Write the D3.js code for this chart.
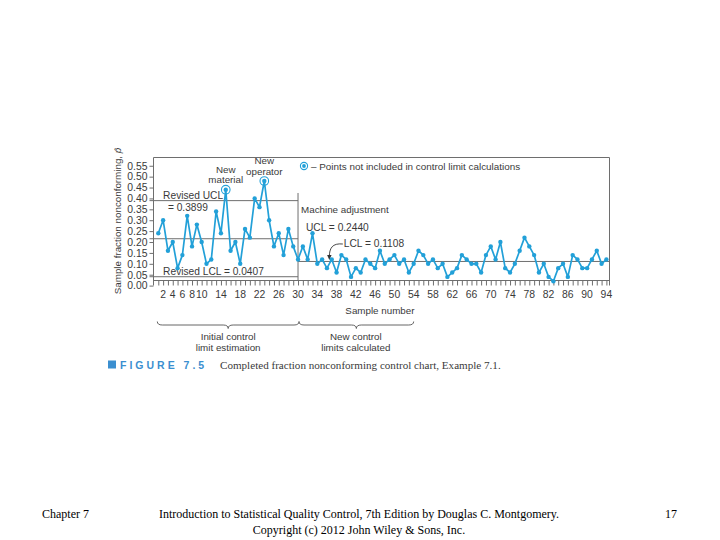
<!DOCTYPE html>
<html><head><meta charset="utf-8">
<script src="https://cdn.jsdelivr.net/npm/d3@7"></script>
<style>
body{margin:0;background:#fff}
svg{display:block}
.ch text{font-family:"Liberation Sans",Arial,sans-serif;fill:#3a3a3a}
</style>
</head><body>
<svg id="c" width="720" height="540"></svg>
<script>
// ---- data ----
const initialFractions = [0.24,0.30,0.16,0.20,0.08,0.14,0.32,0.18,0.28,0.20,0.10,0.12,0.34,0.24,0.44,0.16,0.20,0.10,0.26,0.22,0.40,0.36,0.48,0.30,0.18,0.24,0.14,0.26,0.18,0.12];
const adjustedFractions = [0.18,0.12,0.24,0.10,0.12,0.08,0.12,0.06,0.14,0.12,0.04,0.08,0.06,0.12,0.10,0.08,0.16,0.10,0.12,0.14,0.10,0.12,0.06,0.10];
const laterFractions = [0.16,0.14,0.10,0.12,0.08,0.10,0.04,0.06,0.08,0.14,0.12,0.10,0.10,0.06,0.14,0.18,0.12,0.20,0.08,0.06,0.10,0.16,0.22,0.18,0.14,0.06,0.10,0.04,0.02,0.08,0.10,0.04,0.14,0.12,0.08,0.08,0.12,0.16,0.10,0.12];
const excludedSamples = [15, 23];
const excludedNotes = [["New","material"],["New","operator"]];
const revisedLimits = [0.3899, 0.2150, 0.0407];   // UCL, CL, LCL (samples 1-30)
const newCenter = 0.1108;                          // samples 30 onwards
const machineAdjustAt = 30;
const yTickValues = [0,0.05,0.10,0.15,0.20,0.25,0.30,0.35,0.40,0.45,0.50,0.55];
const xTickLabels = [2,4,6,8,10,14,18,22,26,30,34,38,42,46,50,54,58,62,66,70,74,78,82,86,90,94];

const fractions = initialFractions.concat(adjustedFractions, laterFractions);
const points = fractions.map((v,i)=>({s:i+1, v}));

// ---- layout ----
const svg = d3.select("#c");
const g = svg.append("g").attr("class","ch");
const x = d3.scaleLinear().domain([1,94]).range([158.3,606.4]);
const y = d3.scaleLinear().domain([0,0.55]).range([285.6,165.75]);
const L=153.5, R=609.5, T=157.5, B=280.5, B2=285.5;
const blue = "#22a0d8", gray="#6e6e6e";

// frame
g.append("path").attr("d",`M${L},${B2}V${T}H${R}V${B2}M${L},${B}H${R}`)
 .attr("fill","none").attr("stroke",gray).attr("stroke-width",1);

// x ticks (every sample)
g.append("g").attr("transform",`translate(0,${B})`)
 .call(d3.axisBottom(x).tickValues(points.map(d=>d.s)).tickSize(5).tickSizeOuter(0).tickFormat(""))
 .call(a=>{a.select(".domain").remove(); a.selectAll("line").attr("stroke",gray);});
g.selectAll("text.xl").data(xTickLabels).join("text").attr("class","xl")
 .attr("x",d=>x(d)).attr("y",298).attr("text-anchor","middle")
 .style("font-size","10.4px").text(d=>d);

// y axis
g.append("g").attr("transform",`translate(${L},0)`)
 .call(d3.axisLeft(y).tickValues(yTickValues).tickSize(4).tickPadding(2).tickFormat(d3.format(".2f")))
 .call(a=>{a.select(".domain").remove(); a.selectAll("line").attr("stroke",gray);
   a.selectAll("text").style("font-size","10.4px").attr("fill","#3a3a3a").style("font-family","Liberation Sans, Arial, sans-serif");});

// axis titles
g.append("text").attr("transform",`translate(121,221) rotate(-90)`)
 .attr("text-anchor","middle").style("font-size","9.8px")
 .html('Sample fraction nonconforming, <tspan font-style="italic">p̂</tspan>');
g.append("text").attr("x",x(47)).attr("y",313.5).attr("text-anchor","middle").style("font-size","9.8px").text("Sample number");

// control lines
const xa = x(machineAdjustAt);
revisedLimits.forEach(v=>{
  g.append("line").attr("x1",L-4).attr("x2",xa).attr("y1",y(v)).attr("y2",y(v)).attr("stroke",gray).attr("stroke-width",1);
});
g.append("line").attr("x1",xa).attr("x2",R).attr("y1",y(newCenter)).attr("y2",y(newCenter)).attr("stroke",gray).attr("stroke-width",1);
g.append("line").attr("x1",xa).attr("x2",xa).attr("y1",y(0.425)).attr("y2",B).attr("stroke",gray).attr("stroke-width",1);

// limit labels
g.append("text").attr("x",x(2)).attr("y",y(revisedLimits[0])-2).style("font-size","10.2px").text("Revised UCL");
g.append("text").attr("x",x(3)).attr("y",y(revisedLimits[0])+10).style("font-size","10.2px").text("= 0.3899");
g.append("text").attr("x",x(2)).attr("y",y(revisedLimits[2])-2).style("font-size","10.2px").text("Revised LCL = 0.0407");
g.append("text").attr("x",xa+3).attr("y",213).style("font-size","9.8px").text("Machine adjustment");
g.append("text").attr("x",xa+8).attr("y",230.5).style("font-size","10.2px").text("UCL = 0.2440");
g.append("text").attr("x",x(39.5)).attr("y",246.5).style("font-size","10.2px").text("LCL = 0.1108");
// arrow
const ax0 = x(39.3), ay0 = 244, ax1 = x(36.5), ay1 = y(newCenter)-1.5;
g.append("path").attr("d",`M${ax0},${ay0}C${ax1+3},${ay0-1} ${ax1},${ay0+4} ${ax1},${ay1-3}`)
 .attr("fill","none").attr("stroke","#333").attr("stroke-width",0.9);
g.append("path").attr("d",`M${ax1-2.2},${ay1-5}L${ax1},${ay1}L${ax1+2.2},${ay1-5}Z`).attr("fill","#333");

// data line + points
g.append("path").datum(points)
 .attr("d",d3.line().x(d=>x(d.s)).y(d=>y(d.v)))
 .attr("fill","none").attr("stroke",blue).attr("stroke-width",1.7).attr("stroke-linejoin","round");
g.selectAll("circle.pt").data(points).join("circle").attr("class","pt")
 .attr("cx",d=>x(d.s)).attr("cy",d=>y(d.v)).attr("r",2.2).attr("fill",blue);
// excluded points
excludedSamples.forEach((s,i)=>{
  const v = fractions[s-1];
  g.append("circle").attr("cx",x(s)).attr("cy",y(v)).attr("r",4.3).attr("fill","none").attr("stroke",blue).attr("stroke-width",1.1);
  const lines = excludedNotes[i];
  g.append("text").attr("x",x(s)).attr("y",y(v)-17).attr("text-anchor","middle").style("font-size","9.8px").text(lines[0]);
  g.append("text").attr("x",x(s)).attr("y",y(v)-6.5).attr("text-anchor","middle").style("font-size","9.8px").text(lines[1]);
});

// legend
g.append("circle").attr("cx",304).attr("cy",166).attr("r",3.6).attr("fill","none").attr("stroke",blue).attr("stroke-width",1.1);
g.append("circle").attr("cx",304).attr("cy",166).attr("r",1.9).attr("fill",blue);
g.append("text").attr("x",311).attr("y",169.5).style("font-size","9.9px").text("– Points not included in control limit calculations");

// braces
function brace(x1,x2,y0,h){
  const m=(x1+x2)/2, q=5, yh=y0+h/2;
  return `M${x1},${y0}Q${x1},${yh} ${x1+q},${yh}L${m-q},${yh}Q${m},${yh} ${m},${y0+h}Q${m},${yh} ${m+q},${yh}L${x2-q},${yh}Q${x2},${yh} ${x2},${y0}`;
}
g.append("path").attr("d",brace(x(1)-1,x(30)+1,321.5,7)).attr("fill","none").attr("stroke","#555").attr("stroke-width",0.9);
g.append("path").attr("d",brace(x(30)+1,x(54),321.5,7)).attr("fill","none").attr("stroke","#555").attr("stroke-width",0.9);
const m1=(x(1)+x(30))/2, m2=(x(30)+x(54))/2;
[["Initial control","limit estimation",m1],["New control","limits calculated",m2]].forEach(([a,b,mx])=>{
  g.append("text").attr("x",mx).attr("y",339.5).attr("text-anchor","middle").style("font-size","9.8px").text(a);
  g.append("text").attr("x",mx).attr("y",351).attr("text-anchor","middle").style("font-size","9.8px").text(b);
});

// caption
g.append("rect").attr("x",108).attr("y",360.5).attr("width",8).attr("height",8).attr("fill","#3b8fd0");
g.append("text").attr("x",120).attr("y",369).style("font-size","10.5px").style("font-weight","bold")
 .style("letter-spacing","3px").style("fill","#3b8fd0").text("FIGURE 7.5");
g.append("text").attr("x",220).attr("y",369).style("font-family","Liberation Serif, Times New Roman, serif")
 .style("font-size","11.1px").text("Completed fraction nonconforming control chart, Example 7.1.");

// footer
const ft = svg.append("g").style("font-family","Liberation Serif, Times New Roman, serif").style("font-size","12px").attr("fill","#000");
ft.append("text").attr("x",42).attr("y",518).text("Chapter 7");
ft.append("text").attr("x",359).attr("y",518).attr("text-anchor","middle").text("Introduction to Statistical Quality Control, 7th Edition by Douglas C. Montgomery.");
ft.append("text").attr("x",359).attr("y",534).attr("text-anchor","middle").text("Copyright (c) 2012  John Wiley & Sons, Inc.");
ft.append("text").attr("x",677).attr("y",518).attr("text-anchor","end").text("17");
</script>
</body></html>
